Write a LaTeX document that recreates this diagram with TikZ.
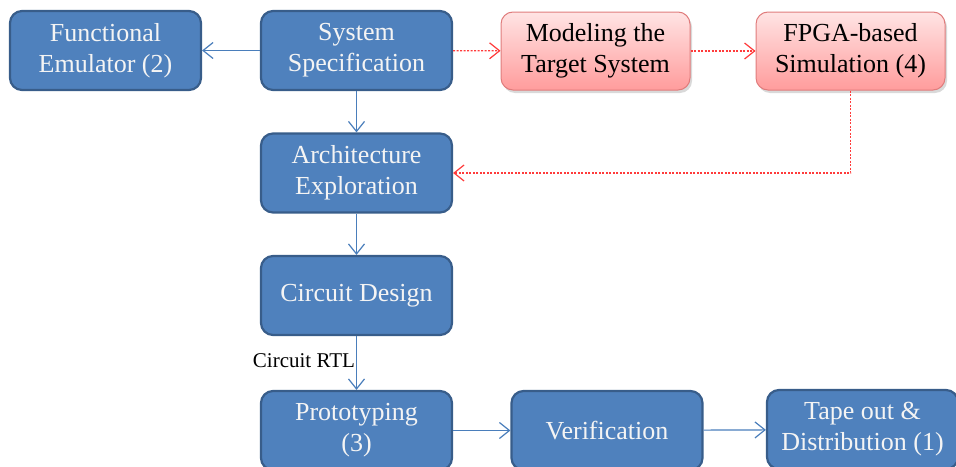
\documentclass[tikz,border=0pt]{standalone}
\usepackage{fontspec}
\setmainfont{Liberation Serif}
\newfontfamily\timesfont{Liberation Serif}
\usepackage{tikz}
\usetikzlibrary{shapes}
\usetikzlibrary{positioning}
\usetikzlibrary{arrows.meta}
\usetikzlibrary{shadows}
\definecolor{boxblue}{HTML}{4F81BD}
\definecolor{rimblue}{HTML}{385D8A}
\definecolor{lineblue}{HTML}{4A7EBB}
\definecolor{textwhite}{HTML}{F4F4F4}
\definecolor{pinktop}{HTML}{FFE4E4}
\definecolor{pinkbot}{HTML}{FF9C9C}
\definecolor{rimpink}{HTML}{E07C7C}
\definecolor{linered}{HTML}{FF3B3B}
\tikzset{
    boxb/.style = {rectangle, rounded corners=12pt, draw=rimblue, line width=2.2pt, fill=boxblue, text=textwhite, align=center, minimum width=191pt, minimum height=79pt, inner sep=0pt, font=\timesfont\fontsize{26}{31}\selectfont},
    boxr/.style = {rectangle, rounded corners=12pt, draw=rimpink, line width=1pt, top color=pinktop, bottom color=pinkbot, text=black, align=center, minimum width=189pt, minimum height=78pt, inner sep=0pt, font=\timesfont\fontsize{26}{31}\selectfont, drop shadow={opacity=0.3, shadow xshift=2pt, shadow yshift=-3pt}},
    edgeb/.style = {-{Straight Barb[length=10pt,width=16pt]}, line width=1.2pt, draw=lineblue},
    edger/.style = {-{Straight Barb[length=10pt,width=16pt]}, line width=1.2pt, draw=linered, dash pattern=on 2pt off 1.5pt}, % model path
    lbl/.style = {font=\timesfont\fontsize{21}{24}\selectfont, text=black, inner sep=1pt}
}

\begin{document}
\begin{tikzpicture}[x=1pt, y=-1pt]
  \useasboundingbox (0,0) rectangle (956,466);
  \clip (0,0) rectangle (956,466);

  \node[boxb] (emul)  at (105.5,50.5) {Functional\\Emulator (2)};
  \node[boxb] (spec)  at (356.5,50.5) {System\\Specification};
  \node[boxr] (model) at (595.5,51)   {Modeling the\\Target System};
  \node[boxr] (fpga)  at (850.5,51)   {FPGA-based\\Simulation (4)};
  \node[boxb] (arch)  at (356.5,173)  {Architecture\\Exploration};
  \node[boxb] (circ)  at (356.5,295.5) {Circuit Design};
  \node[boxb] (proto) at (356.5,430.5) {Prototyping\\(3)};
  \node[boxb] (verif) at (607,430.5)  {Verification};
  \node[boxb] (tape)  at (862.5,429.5) {Tape out \&\\Distribution (1)};

  \draw[edgeb] (spec) -- (emul);
  \draw[edgeb] (spec) -- (arch);
  \draw[edgeb] (arch) -- (circ);
  \draw[edgeb] (circ) -- node[lbl, left, pos=0.45] {Circuit RTL} (proto);
  \draw[edgeb] (proto) -- (verif);
  \draw[edgeb] (verif) -- (tape);

  \draw[edger] (spec) -- (model);
  \draw[edger] (model) -- (fpga);
  \draw[edger] (fpga.south) |- (arch.east);

\end{tikzpicture}
\end{document}
